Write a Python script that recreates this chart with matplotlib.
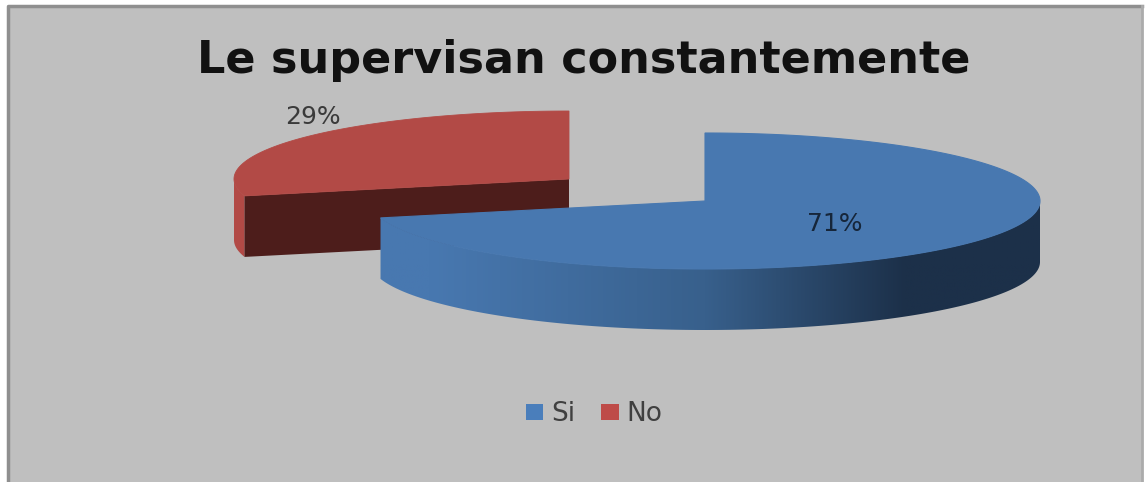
import matplotlib
matplotlib.use('Agg')
import matplotlib.pyplot as plt
from matplotlib.patches import Polygon, Patch, Rectangle
import numpy as np

title = 'Le supervisan constantemente'
categories = ['Si', 'No']
values = [71, 29]
percent_labels = ['71%', '29%']

BG = '#bfbfbf'
BLUE_TOP = '#4878b0'
BLUE_DARK = '#1c3049'
RED_TOP = '#b24a46'
RED_CUT = '#4d1d1b'
LEGEND_COLORS = ['#4a7ebb', '#be4b48']

W, H = 1145, 482
fig = plt.figure(figsize=(W / 100, H / 100), dpi=100, facecolor='white')
ax = fig.add_axes([0, 0, 1, 1])
ax.set_xlim(0, W)
ax.set_ylim(H, 0)
ax.axis('off')

# chart area, darker frame on the top and left, faint on the right
ax.add_patch(Rectangle((8, 6), 1134, H, fc=BG, ec='none', zorder=0))
ax.plot([8, 8, 1142], [H, 6, 6], color='#8f8f8f', lw=2.5, zorder=0.5)
ax.plot([1142, 1142], [6, H], color='#ababab', lw=2, zorder=0.5)

# pie geometry in pixels
rx, ry = 335, 68
depth = 61
blue_c = (705, 201)
red_c = (569, 179)

# angles run clockwise from 12 o'clock
fracs = np.array(values) / sum(values)
split = fracs[0] * 360


def rim(center, a0, a1, n=200, drop=0):
    a = np.radians(np.linspace(a0, a1, n))
    return np.column_stack([center[0] + rx * np.sin(a), center[1] - ry * np.cos(a) + drop])


# red slice, behind the blue one
corner = rim(red_c, split, split, 1)[0]
ax.add_patch(Polygon(np.vstack([rim(red_c, split, 270), rim(red_c, 270, split, drop=depth)]),
                     fc=RED_TOP, ec='none', zorder=1))
ax.add_patch(Polygon([red_c, corner, corner + [0, depth], (red_c[0], red_c[1] + depth)],
                     fc=RED_CUT, ec='none', zorder=2))
ax.add_patch(Polygon(np.vstack([[red_c], rim(red_c, split, 360)]), fc=RED_TOP, ec=RED_TOP, lw=0.6, zorder=3))

# blue slice: shaded wall, then the top face
wall = Polygon(np.vstack([rim(blue_c, 90, split), rim(blue_c, split, 90, drop=depth)]),
               fc='none', ec='none', zorder=4)
ax.add_patch(wall)
shade = np.linspace(0, 1, 256).reshape(1, -1)
cmap = matplotlib.colors.LinearSegmentedColormap.from_list(
    'wall', [(0, BLUE_TOP), (0.09, BLUE_TOP), (0.5, '#38608c'), (0.8, BLUE_DARK), (1, BLUE_DARK)])
img = ax.imshow(shade, cmap=cmap, extent=(blue_c[0] - rx, blue_c[0] + rx, 340, 190),
                aspect='auto', zorder=4)
img.set_clip_path(wall)
ax.set_xlim(0, W)
ax.set_ylim(H, 0)
ax.add_patch(Polygon(np.vstack([[blue_c], rim(blue_c, 0, split)]), fc=BLUE_TOP, ec=BLUE_TOP, lw=0.8, zorder=5))

ax.text(583.5, 73, title, fontsize=32, fontweight='bold', color='#111111',
        ha='center', va='baseline', zorder=6)
ax.text(835, 224, percent_labels[0], fontsize=18, color='#16263a', ha='center', va='center', zorder=6)
ax.text(313, 117, percent_labels[1], fontsize=18, color='#3a3a3a', ha='center', va='center', zorder=6)

handles = [Patch(fc=c, ec='none') for c in LEGEND_COLORS]
ax.legend(handles, categories, loc='center', bbox_to_anchor=(594 / W, 1 - 414 / H), ncol=2, frameon=False,
          fontsize=19, labelcolor='#404040', handlelength=0.68, handleheight=0.55,
          handletextpad=0.3, columnspacing=0.95, borderpad=0)

fig.savefig('out.png', dpi=100, facecolor='white')
